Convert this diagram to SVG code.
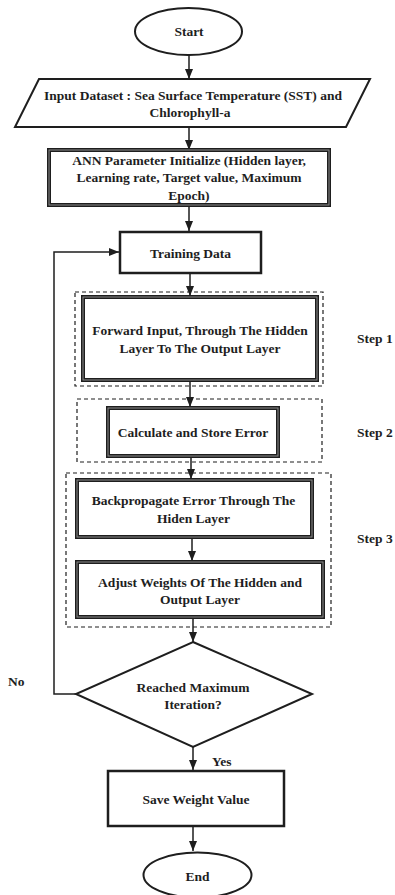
<svg xmlns="http://www.w3.org/2000/svg" width="395" height="895" viewBox="0 0 395 895">
<defs>
<style>
.t{font-family:"Liberation Serif","Times New Roman",serif;font-weight:bold;font-size:13.5px;fill:#1e1e1e;text-anchor:middle}
.s{font-family:"Liberation Serif","Times New Roman",serif;font-weight:bold;font-size:13.5px;fill:#1e1e1e}
.shape{fill:#fff;stroke:#1e1e1e;stroke-width:2}
.box{fill:#fff;stroke:#1e1e1e;stroke-width:2.5}
.dbl{fill:#fff;stroke:#1e1e1e;stroke-width:4}
.dbli{fill:none;stroke:#8c8c8c;stroke-width:1}
.dash{fill:none;stroke:#1e1e1e;stroke-width:1.2;stroke-dasharray:4 3}
.c{fill:none;stroke:#1e1e1e;stroke-width:1.5}
</style>
<marker id="ah" markerUnits="userSpaceOnUse" markerWidth="10" markerHeight="10" refX="10" refY="5" orient="auto">
<path d="M0,1 L10,5 L0,9 z" fill="#1e1e1e"/>
</marker>
</defs>
<rect width="395" height="895" fill="#fff"/>

<g id="step-frames">
<rect class="dash" x="75" y="292" width="248" height="94"/>
<rect class="dash" x="77" y="399" width="245" height="63"/>
<rect class="dash" x="66" y="473" width="265" height="154"/>
</g>

<g id="connectors">
<line class="c" x1="189" y1="55" x2="189" y2="79" marker-end="url(#ah)"/>
<line class="c" x1="189" y1="127" x2="189" y2="150" marker-end="url(#ah)"/>
<line class="c" x1="189" y1="205" x2="189" y2="231" marker-end="url(#ah)"/>
<line class="c" x1="190" y1="273" x2="190" y2="296" marker-end="url(#ah)"/>
<line class="c" x1="190" y1="380" x2="190" y2="407" marker-end="url(#ah)"/>
<line class="c" x1="191" y1="456" x2="191" y2="479" marker-end="url(#ah)"/>
<line class="c" x1="192" y1="537" x2="192" y2="561" marker-end="url(#ah)"/>
<line class="c" x1="193" y1="617" x2="193" y2="642" marker-end="url(#ah)"/>
<line class="c" x1="193" y1="747" x2="193" y2="770" marker-end="url(#ah)"/>
<line class="c" x1="193" y1="826" x2="193" y2="851" marker-end="url(#ah)"/>
<polyline class="c" points="76,694 54,694 54,252 119,252" marker-end="url(#ah)"/>
<text class="s" x="8" y="686">No</text>
<text class="s" x="212" y="766">Yes</text>
</g>

<g id="start">
<ellipse class="shape" cx="188.5" cy="31.5" rx="53.5" ry="23.5"/>
<text class="t" x="189" y="36">Start</text>
</g>

<g id="input">
<polygon class="shape" points="39,79 370,79 346,127 15,127"/>
<text class="t" x="193" y="99.5">Input Dataset : Sea Surface Temperature (SST) and</text>
<text class="t" x="190" y="117">Chlorophyll-a</text>
</g>

<g id="ann-init">
<rect class="dbl" x="49" y="150" width="280" height="55"/>
<rect class="dbli" x="49" y="150" width="280" height="55"/>
<text class="t" x="189" y="164.5">ANN Parameter Initialize (Hidden layer,</text>
<text class="t" x="189" y="182">Learning rate, Target value, Maximum</text>
<text class="t" x="189" y="199.5">Epoch)</text>
</g>

<g id="training">
<rect class="box" x="120" y="232" width="141" height="41"/>
<text class="t" x="190.5" y="257.5">Training Data</text>
</g>

<g id="forward">
<rect class="dbl" x="83" y="297" width="234" height="83"/>
<rect class="dbli" x="83" y="297" width="234" height="83"/>
<text class="t" x="200" y="334.5">Forward Input, Through The Hidden</text>
<text class="t" x="200" y="352.5">Layer To The Output Layer</text>
</g>
<text class="s" x="357" y="342.5">Step 1</text>

<g id="calc-error">
<rect class="dbl" x="108" y="408" width="170" height="48"/>
<rect class="dbli" x="108" y="408" width="170" height="48"/>
<text class="t" x="193" y="437">Calculate and Store Error</text>
</g>
<text class="s" x="357" y="436.5">Step 2</text>

<g id="backprop">
<rect class="dbl" x="77" y="480" width="235" height="57"/>
<rect class="dbli" x="77" y="480" width="235" height="57"/>
<text class="t" x="193.5" y="504.5">Backpropagate Error Through The</text>
<text class="t" x="193.5" y="522.5">Hiden Layer</text>
</g>
<text class="s" x="357" y="542.5">Step 3</text>

<g id="adjust">
<rect class="dbl" x="77" y="562" width="246" height="55"/>
<rect class="dbli" x="77" y="562" width="246" height="55"/>
<text class="t" x="200" y="586.5">Adjust Weights Of  The Hidden and</text>
<text class="t" x="200" y="603.5">Output Layer</text>
</g>

<g id="decision">
<polygon class="shape" points="193,642 312,694 193,747 76,694"/>
<text class="t" x="193" y="691.5">Reached Maximum</text>
<text class="t" x="193" y="708.5">Iteration?</text>
</g>

<g id="save">
<rect class="box" x="108" y="771" width="176" height="55"/>
<text class="t" x="196" y="803.5">Save Weight Value</text>
</g>

<g id="end">
<ellipse class="shape" cx="197.5" cy="875" rx="54" ry="22.5"/>
<text class="t" x="197.5" y="880.5">End</text>
</g>
</svg>
